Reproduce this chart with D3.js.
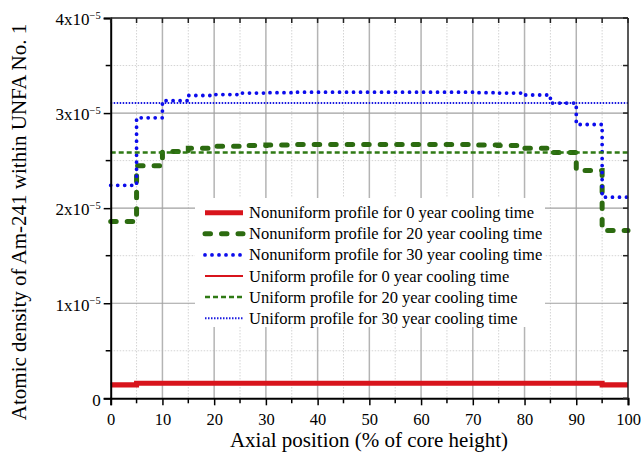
<!DOCTYPE html>
<html>
<head>
<meta charset="utf-8">
<script src="https://cdn.jsdelivr.net/npm/d3@7"></script>
<style>
  body { margin: 0; background: #fff; }
  svg { font-family: "Liberation Serif", "Times New Roman", serif; }
</style>
</head>
<body>
<svg id="chart" width="642" height="460"></svg>
<script>
// axial bin edges (% of core height)
const edges = [0, 5, 10, 15, 20, 25, 30, 35, 40, 45, 50, 55, 60, 65, 70, 75, 80, 85, 90, 95, 100]
// atomic density per 5% bin, units of 1e-5
const nonuni0 = [0.140, 0.158, 0.158, 0.158, 0.158, 0.158, 0.158, 0.158, 0.158, 0.158, 0.158, 0.158, 0.158, 0.158, 0.158, 0.158, 0.158, 0.158, 0.158, 0.140]
const nonuni20 = [1.86, 2.445, 2.595, 2.63, 2.65, 2.66, 2.665, 2.67, 2.67, 2.67, 2.67, 2.67, 2.67, 2.67, 2.665, 2.66, 2.63, 2.585, 2.395, 1.765]
const nonuni30 = [2.24, 2.95, 3.13, 3.185, 3.195, 3.21, 3.215, 3.22, 3.22, 3.22, 3.22, 3.22, 3.22, 3.22, 3.215, 3.21, 3.19, 3.105, 2.88, 2.115]
const uni0 = 0.156
const uni20 = 2.585
const uni30 = 3.105
const xTicks = [0, 10, 20, 30, 40, 50, 60, 70, 80, 90, 100]
const xMinor = [5, 15, 25, 35, 45, 55, 65, 75, 85, 95]
const yTicks = [0, 1, 2, 3, 4]
const yMinor = [0.5, 1.5, 2.5, 3.5]
const legendLabels = [
  'Nonuniform profile for 0 year cooling time',
  'Nonuniform profile for 20 year cooling time',
  'Nonuniform profile for 30 year cooling time',
  'Uniform profile for 0 year cooling time',
  'Uniform profile for 20 year cooling time',
  'Uniform profile for 30 year cooling time'
]

const serif = '"Liberation Serif", "Times New Roman", serif'
const svg = d3.select('#chart')
const pLeft = 110.7
const pRight = 628
const pTop = 18
const pBottom = 398.3

const x = d3.scaleLinear().domain([0, 100]).range([pLeft, pRight])
const y = d3.scaleLinear().domain([0, 4]).range([pBottom, pTop])

// grid
const grid = svg.append('g')
grid.selectAll('.vmin').data(xMinor).join('line')
  .attr('x1', d => x(d)).attr('x2', d => x(d)).attr('y1', pTop).attr('y2', pBottom)
  .attr('stroke', '#d4d4d4').attr('stroke-width', 1).attr('stroke-dasharray', '1.5,1.5')
grid.selectAll('.hmin').data(yMinor).join('line')
  .attr('x1', pLeft).attr('x2', pRight).attr('y1', d => y(d)).attr('y2', d => y(d))
  .attr('stroke', '#d4d4d4').attr('stroke-width', 1).attr('stroke-dasharray', '1.5,1.5')
grid.selectAll('.vmaj').data(xTicks.slice(1, -1)).join('line')
  .attr('x1', d => x(d)).attr('x2', d => x(d)).attr('y1', pTop).attr('y2', pBottom)
  .attr('stroke', '#b4b4b4').attr('stroke-width', 1.5)
grid.selectAll('.hmaj').data(yTicks.slice(1, -1)).join('line')
  .attr('x1', pLeft).attr('x2', pRight).attr('y1', d => y(d)).attr('y2', d => y(d))
  .attr('stroke', '#a0a0a0').attr('stroke-width', 1.2)

// legend background hides the grid
svg.append('rect').attr('x', 195).attr('y', 198).attr('width', 350).attr('height', 129).attr('fill', '#fff')

// series
const stepPts = vals => {
  const pts = vals.map((v, i) => [edges[i], v])
  pts.push([edges[edges.length - 1], vals[vals.length - 1]])
  return pts
}
const line = d3.line().x(d => x(d[0])).y(d => y(d[1])).curve(d3.curveStepAfter)

const styles = [
  { color: '#d8141c', width: 5, dash: null, cap: 'butt' },
  { color: '#2c6b10', width: 5, dash: '5.5,11', cap: 'round' },
  { color: '#0c0cec', width: 3.8, dash: '0,7', cap: 'round' },
  { color: '#d8141c', width: 2, dash: null, cap: 'butt' },
  { color: '#2f7a14', width: 2.5, dash: '5,3', cap: 'butt' },
  { color: '#1a1ae0', width: 2, dash: '1.5,1.5', cap: 'butt' }
]
const series = [
  stepPts(nonuni0), stepPts(nonuni20), stepPts(nonuni30),
  [[0, uni0], [100, uni0]], [[0, uni20], [100, uni20]], [[0, uni30], [100, uni30]]
]

svg.append('g').selectAll('path').data(series).join('path')
  .attr('d', line)
  .attr('fill', 'none')
  .attr('stroke', (d, i) => styles[i].color)
  .attr('stroke-width', (d, i) => styles[i].width)
  .attr('stroke-dasharray', (d, i) => styles[i].dash)
  .attr('stroke-linecap', (d, i) => styles[i].cap)

// axes
const xAxis = d3.axisBottom(x).tickValues(xTicks).tickSize(7).tickPadding(8)
const gx = svg.append('g').attr('transform', `translate(0,${pBottom})`).call(xAxis)
  .attr('font-family', serif).attr('font-size', 16.5)
gx.selectAll('text').attr('fill', '#000')
gx.selectAll('.minor').data(xMinor).join('line').attr('class', 'minor')
  .attr('x1', d => x(d)).attr('x2', d => x(d)).attr('y1', 0).attr('y2', 5)
  .attr('stroke', '#000').attr('stroke-width', 1.5)

const yAxis = d3.axisLeft(y).tickValues(yTicks).tickSize(7).tickPadding(3).tickFormat(() => '')
const gy = svg.append('g').attr('transform', `translate(${pLeft},0)`).call(yAxis)
  .attr('font-family', serif).attr('font-size', 17)
gy.selectAll('.tick text').each(function (d) {
  const t = d3.select(this).attr('fill', '#000').attr('dy', '0.4em')
  if (d === 0) {
    t.text('0')
  } else {
    t.append('tspan').text(d + 'x10')
    t.append('tspan').text('\u22125').attr('dy', '-0.6em').style('font-size', '10.5px')
  }
})
gy.selectAll('.minor').data(yMinor).join('line').attr('class', 'minor')
  .attr('x1', 0).attr('x2', -5).attr('y1', d => y(d)).attr('y2', d => y(d))
  .attr('stroke', '#000').attr('stroke-width', 1.5)

;[gx, gy].forEach(g => {
  g.select('.domain').attr('stroke', '#000').attr('stroke-width', 2)
  g.selectAll('.tick line').attr('stroke', '#000').attr('stroke-width', 1.5)
})

// top and right frame with inward ticks
const frame = svg.append('g').attr('stroke', '#222').attr('stroke-width', 1.5)
frame.append('line').attr('x1', pLeft).attr('x2', pRight).attr('y1', pTop).attr('y2', pTop)
frame.append('line').attr('x1', pRight).attr('x2', pRight).attr('y1', pTop).attr('y2', pBottom)
frame.selectAll('.tt').data(xTicks.concat(xMinor)).join('line')
  .attr('x1', d => x(d)).attr('x2', d => x(d)).attr('y1', pTop).attr('y2', pTop + 5)
frame.selectAll('.rt').data(yTicks.concat(yMinor)).join('line')
  .attr('x1', pRight).attr('x2', pRight - 5).attr('y1', d => y(d)).attr('y2', d => y(d))

// axis titles
svg.append('text').attr('x', 369).attr('y', 447)
  .attr('text-anchor', 'middle').style('font-size', '21px')
  .text('Axial position (% of core height)')
svg.append('text').attr('transform', 'translate(26,222) rotate(-90)')
  .attr('text-anchor', 'middle').style('font-size', '21px')
  .text('Atomic density of Am-241 within UNFA No. 1')

// legend
const legend = svg.append('g').selectAll('g').data(legendLabels).join('g')
  .attr('transform', (d, i) => `translate(205,${212.7 + i * 21.1})`)
legend.append('line').attr('x1', 0).attr('x2', 38).attr('y1', 0).attr('y2', 0)
  .attr('stroke', (d, i) => styles[i].color)
  .attr('stroke-width', (d, i) => styles[i].width)
  .attr('stroke-dasharray', (d, i) => styles[i].dash)
  .attr('stroke-linecap', (d, i) => styles[i].cap)
legend.append('text').attr('x', 44).attr('y', 5.5).style('font-size', '16.5px').text(d => d)
</script>
</body>
</html>
